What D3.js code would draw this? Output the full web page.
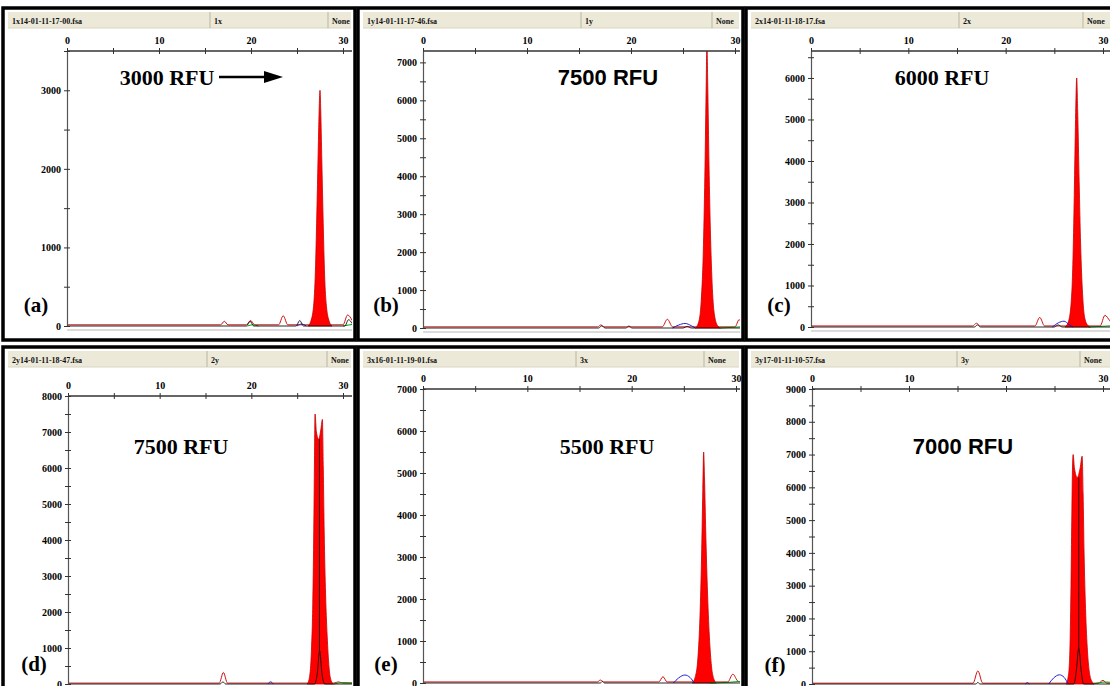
<!DOCTYPE html>
<html>
<head>
<meta charset="utf-8">
<script src="https://cdn.jsdelivr.net/npm/d3@7/dist/d3.min.js"></script>
<style>
  body { margin: 0; background: #fff; }
  svg { display: block; }
  .tick text { font-family: "Liberation Serif", serif; font-weight: bold; font-size: 10px; fill: #000; }
</style>
</head>
<body>
<svg id="chart" width="1110" height="686"></svg>
<script>
// ---- run metadata -------------------------------------------------------
const runFiles = ["1x14-01-11-17-00.fsa", "1y14-01-11-17-46.fsa", "2x14-01-11-18-17.fsa",
                  "2y14-01-11-18-47.fsa", "3x16-01-11-19-01.fsa", "3y17-01-11-10-57.fsa"];
const runIds = ["1x", "1y", "2x", "2y", "3x", "3y"];
const sizeStandards = ["None", "None", "None", "None", "None", "None"];
const panelTags = ["(a)", "(b)", "(c)", "(d)", "(e)", "(f)"];
const rfuLabels = ["3000 RFU", "7500 RFU", "6000 RFU", "7500 RFU", "5500 RFU", "7000 RFU"];
const yAxisMax = [3500, 7300, 6650, 8000, 7000, 9000];
const xTickValues = [0, 5, 10, 15, 20, 25, 30];

// ---- main (filled) peaks: [scan x, RFU] ---------------------------------
const mainPeakA = [[26.2,0],[26.5,60],[26.8,250],[27.0,700],[27.15,1400],[27.3,2200],[27.42,2800],[27.5,3000],
                   [27.58,2750],[27.7,2100],[27.85,1300],[28.0,650],[28.2,250],[28.5,60],[28.8,0]];
const mainPeakB = [[26.2,0],[26.5,150],[26.75,700],[26.95,2000],[27.1,4000],[27.22,6200],[27.3,7500],[27.38,6400],
                   [27.5,4300],[27.65,2400],[27.85,900],[28.05,300],[28.35,50],[28.6,0]];
const mainPeakC = [[26.1,0],[26.4,100],[26.7,500],[26.9,1500],[27.05,3200],[27.18,5000],[27.3,6000],[27.4,5200],
                   [27.55,3500],[27.7,2000],[27.9,800],[28.1,250],[28.4,50],[28.7,0]];
const mainPeakD = [[26.1,0],[26.35,200],[26.55,900],[26.7,2200],[26.8,4000],[26.88,6000],[26.95,7500],[27.1,7000],
                   [27.35,6800],[27.6,7100],[27.75,7350],[27.85,6000],[27.95,4200],[28.1,2500],[28.3,1200],
                   [28.5,400],[28.7,100],[28.95,0]];
const mainPeakE = [[25.8,0],[26.1,150],[26.35,600],[26.55,1600],[26.7,3000],[26.82,4600],[26.9,5500],[26.98,4900],
                   [27.1,3600],[27.25,2300],[27.45,1100],[27.65,400],[27.9,80],[28.1,0]];
const mainPeakF = [[26.2,0],[26.45,300],[26.6,1200],[26.7,3000],[26.78,5000],[26.85,6500],[26.92,7000],[27.05,6600],
                   [27.35,6300],[27.65,6600],[27.85,6950],[27.95,5800],[28.05,4000],[28.2,2300],[28.4,1000],
                   [28.6,350],[28.85,80],[29.05,0]];

// ---- other dye channels: [scan x, RFU]; null RFU breaks the trace -------
const redTraceA = [[0,15],[16.7,15],[17.1,60],[17.5,15],[19.5,15],[19.95,70],[20.4,15],[23.0,15],[23.5,130],
                   [24.0,15],[30.0,15],[30.5,140],[31,70]];
const redTraceB = [[0,30],[16.8,30],[17.1,80],[17.4,30],[23.0,30],[23.5,230],[24.0,30],[30.0,30],[30.4,220],[30.6,150]];
const redTraceC = [[0,25],[16.6,25],[17.0,90],[17.4,25],[23.0,25],[23.5,230],[24.0,25],[29.7,25],[30.2,280],
                   [30.7,150],[31,60]];
const redTraceD = [[0,25],[16.5,25],[16.95,320],[17.4,25],[29.0,25],[29.5,60],[30.0,25],[31,25]];
const redTraceE = [[0,25],[16.7,25],[17.0,70],[17.3,25],[22.6,25],[23.0,150],[23.4,25],[29.2,25],[29.7,210],
                   [30.2,40],[30.5,25]];
const redTraceF = [[0,25],[16.6,25],[17.1,400],[17.6,25],[29.5,25],[30.0,110],[30.4,25],[31,25]];

const blackTraceA = [[0,0],[19.5,0],[19.9,60],[20.3,0],[24.9,0],[25.3,70],[25.7,0],[30.2,0],[30.6,80],[31,30]];
const blackTraceB = [[0,0],[16.9,0],[17.2,60],[17.5,0],[19.5,0],[19.8,50],[20.1,0],[25.0,0],[25.4,40],[25.8,0],[30.6,0]];
const blackTraceC = [[0,0],[16.8,0],[17.1,50],[17.4,0],[25.0,0],[25.4,50],[25.8,0],[31,0]];
const blackTraceD = [[0,0],[16.6,0],[16.9,60],[17.2,0],[26.9,0],[27.2,300],[27.45,920],[27.7,300],[28.0,0],[31,0]];
const blackTraceE = [[0,0],[17.0,0],[17.2,40],[17.4,0],[30.5,0]];
const blackTraceF = [[0,0],[16.9,0],[17.1,50],[17.3,0],[27.0,0],[27.25,400],[27.5,1100],[27.75,400],[28.0,0],[31,0]];

const blueTraceA = [[25.0,0],[25.5,25],[26.0,0]];
const blueTraceB = [[24.0,0],[24.6,80],[25.2,120],[25.8,60],[26.2,0]];
const blueTraceC = [[24.8,0],[25.4,100],[26.0,140],[26.5,60],[26.9,0]];
const blueTraceD = [[21.8,0],[22.1,60],[22.4,0]];
const blueTraceE = [[24.0,0],[24.5,120],[25.1,190],[25.6,130],[26.0,0]];
const blueTraceF = [[22.0,0],[22.2,40],[22.4,0],[22.4,null],[24.4,null],[24.4,0],[24.9,180],[25.5,280],[26.0,200],[26.4,0]];

const greenTraceA = [[19.6,0],[20.2,15],[20.8,0],[20.8,null],[30.0,null],[30.0,0],[31,20]];
const greenTraceB = [[28.5,0],[30.6,30]];
const greenTraceC = [[28.5,0],[31,30]];
const greenTraceD = [[29.0,0],[30.0,40],[31,30]];
const greenTraceE = [[27.5,0],[29.5,20],[30.5,40]];
const greenTraceF = [[29.0,0],[30.3,60],[31,40]];

// boundary drawn through the split of the double peaks
const splitLineD = [[27.43,920],[27.43,6800]];
const splitLineF = [[27.5,1100],[27.5,6300]];

const mainPeaks = [mainPeakA, mainPeakB, mainPeakC, mainPeakD, mainPeakE, mainPeakF];
const redTraces = [redTraceA, redTraceB, redTraceC, redTraceD, redTraceE, redTraceF];
const blackTraces = [blackTraceA, blackTraceB, blackTraceC, blackTraceD, blackTraceE, blackTraceF];
const blueTraces = [blueTraceA, blueTraceB, blueTraceC, blueTraceD, blueTraceE, blueTraceF];
const greenTraces = [greenTraceA, greenTraceB, greenTraceC, greenTraceD, greenTraceE, greenTraceF];
const splitLines = [[], [], [], splitLineD, [], splitLineF];

// ---- window layout (pixels) ---------------------------------------------
const frames = [
  { L: 3,   T: 8,   R: 355,  B: 340, div: [210, 328],  x0: 67,  x30: 343,  pr: 352,  top: 51,  base: 326 },
  { L: 358, T: 8,   R: 743,  B: 340, div: [581, 712],  x0: 423, x30: 735,  pr: 740,  top: 51,  base: 328 },
  { L: 746, T: 8,   R: 1116, B: 340, div: [959, 1083], x0: 811, x30: 1103, pr: 1113, top: 51,  base: 327 },
  { L: 3,   T: 347, R: 355,  B: 692, div: [207, 327],  x0: 68,  x30: 343,  pr: 352,  top: 396, base: 684 },
  { L: 358, T: 347, R: 743,  B: 692, div: [576, 704],  x0: 423, x30: 736,  pr: 740,  top: 389, base: 683 },
  { L: 746, T: 347, R: 1116, B: 692, div: [957, 1080], x0: 812, x30: 1103, pr: 1113, top: 389, base: 684 }
];
const labelSpots = [
  { x: 167, y: 77,  font: "Liberation Serif", arrow: true },
  { x: 608, y: 77,  font: "Liberation Sans" },
  { x: 942, y: 77,  font: "Liberation Serif" },
  { x: 181, y: 446, font: "Liberation Serif" },
  { x: 607, y: 446, font: "Liberation Serif" },
  { x: 963, y: 446, font: "Liberation Sans" }
];
const tagSpots = [[36, 305], [386, 305], [779, 305], [34, 664], [386, 664], [775, 665]];

const svg = d3.select("#chart");
const defs = svg.append("defs");

frames.forEach((f, i) => {
  const g = svg.append("g");

  // window frame
  g.append("rect")
    .attr("x", f.L).attr("y", f.T).attr("width", f.R - f.L).attr("height", f.B - f.T)
    .attr("fill", "#fff").attr("stroke", "#000").attr("stroke-width", 3.5);

  // title bar
  g.append("rect")
    .attr("x", f.L + 5).attr("y", f.T + 4).attr("width", f.R - f.L - 9).attr("height", 16)
    .attr("fill", "#ece9d8");
  g.append("line")
    .attr("x1", f.L + 5).attr("x2", f.R - 4).attr("y1", f.T + 20).attr("y2", f.T + 20)
    .attr("stroke", "#d8d4c2").attr("stroke-width", 1);
  f.div.forEach(dx => {
    g.append("line").attr("x1", dx).attr("x2", dx).attr("y1", f.T + 4).attr("y2", f.T + 20)
      .attr("stroke", "#b9b5a2").attr("stroke-width", 1);
  });
  const headText = [[f.L + 9, runFiles[i]], [f.div[0] + 4, runIds[i]], [f.div[1] + 4, sizeStandards[i]]];
  headText.forEach(([hx, t]) => {
    g.append("text").attr("x", hx).attr("y", f.T + 15.5)
      .attr("font-family", "Liberation Serif").attr("font-weight", "bold").attr("font-size", 8)
      .attr("fill", "#111").text(t);
  });

  // scales
  const x = d3.scaleLinear().domain([0, 30]).range([f.x0, f.x30]);
  const y = d3.scaleLinear().domain([0, yAxisMax[i]]).range([f.base, f.top]);

  // light rule under the plot
  g.append("line").attr("x1", f.x0).attr("x2", f.pr).attr("y1", f.base + 4).attr("y2", f.base + 4)
    .attr("stroke", "#cfcfcf").attr("stroke-width", 1.5);

  // traces
  defs.append("clipPath").attr("id", "plotclip" + i)
    .append("rect").attr("x", f.x0).attr("y", f.top).attr("width", f.pr - f.x0).attr("height", f.base - f.top + 2);
  const plot = g.append("g").attr("clip-path", `url(#plotclip${i})`);

  const line = d3.line().defined(d => d[1] !== null)
    .x(d => x(d[0])).y(d => y(d[1])).curve(d3.curveMonotoneX);
  const area = d3.area().x(d => x(d[0])).y0(y(0)).y1(d => y(d[1])).curve(d3.curveMonotoneX);

  plot.append("path").datum(redTraces[i]).attr("d", line)
    .attr("fill", "none").attr("stroke", "#d01010").attr("stroke-width", 1);
  plot.append("path").datum(mainPeaks[i]).attr("d", area)
    .attr("fill", "#ff0000").attr("stroke", "#c80000").attr("stroke-width", 0.8);
  plot.append("path").datum(greenTraces[i]).attr("d", line)
    .attr("fill", "none").attr("stroke", "#00a000").attr("stroke-width", 1);
  plot.append("path").datum(blueTraces[i]).attr("d", line)
    .attr("fill", "none").attr("stroke", "#2020d0").attr("stroke-width", 1);
  plot.append("path").datum(blackTraces[i]).attr("d", line)
    .attr("fill", "none").attr("stroke", "#111").attr("stroke-width", 0.9);
  if (splitLines[i].length) {
    plot.append("path").datum(splitLines[i]).attr("d", d3.line().x(d => x(d[0])).y(d => y(d[1])))
      .attr("fill", "none").attr("stroke", "#300").attr("stroke-width", 1);
  }

  // x axis along the top
  const xAxis = g.append("g").attr("transform", `translate(0,${f.top})`)
    .call(d3.axisTop(x).tickValues(xTickValues).tickFormat(d => d % 10 === 0 ? d : "")
      .tickSizeInner(3).tickSizeOuter(0).tickPadding(4));
  xAxis.select(".domain").remove();
  xAxis.selectAll(".tick line").attr("y1", 3).attr("y2", -3).attr("stroke", "#333");
  xAxis.append("line").attr("x1", f.x0).attr("x2", f.pr).attr("y1", 0).attr("y2", 0)
    .attr("stroke", "#333").attr("stroke-width", 1.3);

  // y axis
  const yAxis = g.append("g").attr("transform", `translate(${f.x0},0)`)
    .call(d3.axisLeft(y).tickValues(d3.range(0, yAxisMax[i] + 1, 500))
      .tickFormat(d => d % 1000 === 0 ? d : "").tickSizeInner(3).tickSizeOuter(0).tickPadding(3));
  yAxis.select(".domain").attr("stroke", "#555").attr("stroke-width", 1.2);
  yAxis.selectAll(".tick line").attr("x1", -3).attr("x2", 3).attr("stroke", "#333");

  // peak height annotation
  const ls = labelSpots[i];
  g.append("text").attr("x", ls.x).attr("y", ls.y).attr("text-anchor", "middle").attr("dy", "0.35em")
    .attr("font-family", ls.font).attr("font-weight", "bold").attr("font-size", 22)
    .attr("fill", "#000").text(rfuLabels[i]);
  if (ls.arrow) {
    g.append("line").attr("x1", 219).attr("x2", 266).attr("y1", ls.y).attr("y2", ls.y)
      .attr("stroke", "#000").attr("stroke-width", 2.5);
    g.append("path").attr("d", `M264,${ls.y - 6}L283,${ls.y}L264,${ls.y + 6}Z`).attr("fill", "#000");
  }

  // panel tag
  g.append("text").attr("x", tagSpots[i][0]).attr("y", tagSpots[i][1]).attr("text-anchor", "middle")
    .attr("dy", "0.35em").attr("font-family", "Liberation Serif").attr("font-weight", "bold")
    .attr("font-size", 21).attr("fill", "#000").text(panelTags[i]);
});
</script>
</body>
</html>
